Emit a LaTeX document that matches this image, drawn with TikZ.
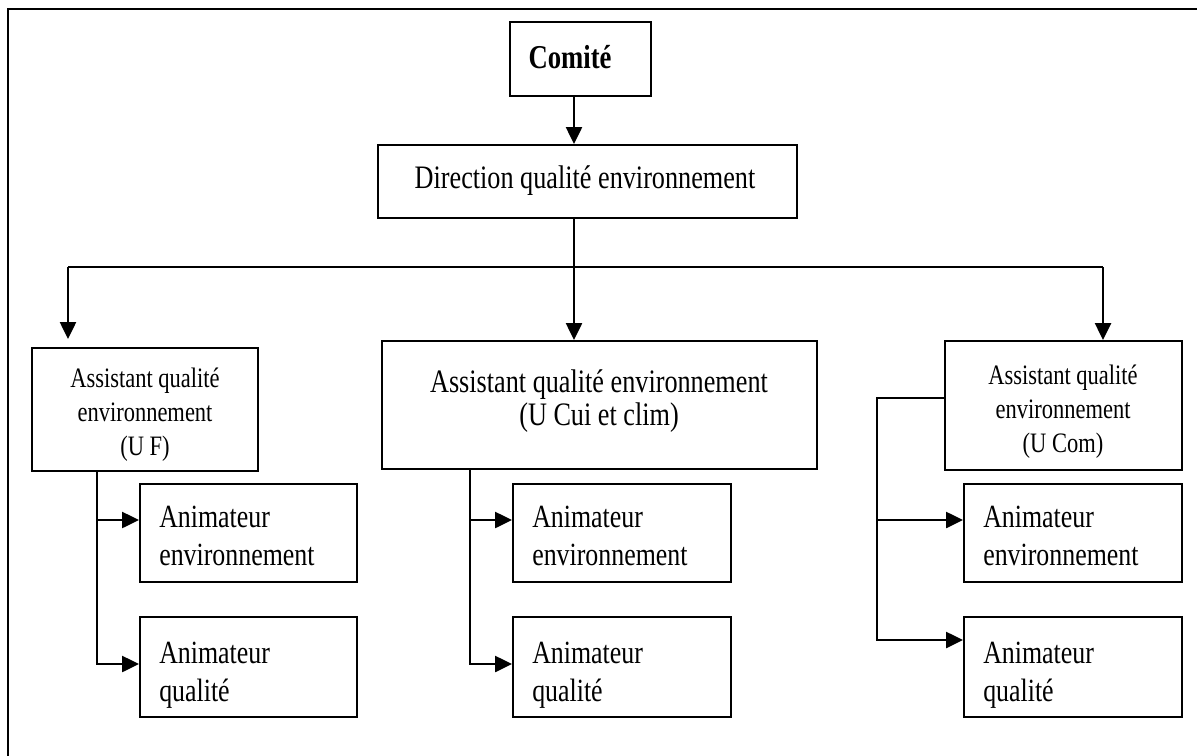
\documentclass[tikz,border=0pt]{standalone}
\usepackage{fontspec}
\setmainfont[FakeStretch=0.8]{Liberation Serif}
\usetikzlibrary{arrows.meta,fit}

\begin{document}
\begin{tikzpicture}[x=0.025cm,y=-0.025cm,
  box/.style={draw,line width=1.5pt,inner sep=0pt},
  txt/.style={inner sep=0pt,anchor=base},
  big/.style={txt,font=\fontsize{23.3}{23}\selectfont,align=center},
  small/.style={txt,font=\fontsize{20}{24}\selectfont,align=center},
  anim/.style={inner sep=0pt,anchor=base west,font=\fontsize{23}{27}\selectfont,align=left},
  link/.style={line width=1.5pt},
  arr/.style={line width=1.5pt,-{Triangle[length=0.42cm,width=0.4cm]}}]
\useasboundingbox (0,0) rectangle (1197,756);
\clip (0,0) rectangle (1197,756);
% cadre
\draw[line width=1.6pt] (8,800) -- (8,9) -- (1250,9);

% comite et direction
\node[box,fit={(510,22) (651,96)}] (comite) {};
\node[txt,font=\bfseries\fontsize{23.7}{28}\selectfont] (comitet) at (570,68) {Comité};
\node[box,fit={(378,145) (797,218)}] (dir) {};
\node[big] (dirt) at (585,188) {Direction qualité environnement};

% assistants (base = derniere ligne)
\node[box,fit={(32,348) (258,471)}] (uf) {};
\node[small] (uft) at (145,455) {Assistant qualité\\environnement\\(U F)};
\node[box,fit={(382,341) (817,469)}] (ucui) {};
\node[big] (ucuit) at (599,425) {Assistant qualité environnement\\(U Cui et clim)};
\node[box,fit={(945,341) (1182,470)}] (ucom) {};
\node[small] (ucomt) at (1063,452) {Assistant qualité\\environnement\\(U Com)};

% animateurs
\node[box,fit={(140,484) (357,582)}] (ufenv) {};
\node[anim] (ufenvt) at (159,565) {Animateur\\environnement};
\node[box,fit={(140,617) (357,717)}] (ufqual) {};
\node[anim] (ufqualt) at (159,701) {Animateur\\qualité};
\node[box,fit={(513,484) (731,582)}] (ucuienv) {};
\node[anim] (ucuienvt) at (532,565) {Animateur\\environnement};
\node[box,fit={(513,617) (731,717)}] (ucuiqual) {};
\node[anim] (ucuiqualt) at (532,701) {Animateur\\qualité};
\node[box,fit={(964,484) (1182,582)}] (ucomenv) {};
\node[anim] (ucomenvt) at (983,565) {Animateur\\environnement};
\node[box,fit={(964,617) (1182,717)}] (ucomqual) {};
\node[anim] (ucomqualt) at (983,701) {Animateur\\qualité};

% liaisons
\coordinate (spine) at (574,0);
\coordinate (busl) at (68,267);
\coordinate (busr) at (1103,267);
\coordinate (lx) at (97,0);
\coordinate (mx) at (470,0);
\coordinate (rx) at (877,0);
\coordinate (row0) at (0,398);
\coordinate (row1) at (0,520);
\coordinate (row2) at (0,664);
\coordinate (row3) at (0,640);
\draw[arr] (spine |- comite.south) -- (spine |- dir.north);
\draw[arr] (spine |- dir.south) -- (spine |- ucui.north);
\draw[link] (busl) -- (busr);
\draw[arr,shorten >=0.2cm] (busl) -- (busl |- uf.north);
\draw[arr] (busr) -- (busr |- ucom.north);

\draw[arr] (lx |- uf.south) |- (ufqual.west |- row2);
\draw[arr] (lx |- row1) -- (ufenv.west |- row1);
\draw[arr] (mx |- ucui.south) |- (ucuiqual.west |- row2);
\draw[arr] (mx |- row1) -- (ucuienv.west |- row1);
\draw[arr] (ucom.west |- row0) -| (rx |- row3) -- (ucomqual.west |- row3);
\draw[arr] (rx |- row1) -- (ucomenv.west |- row1);
\end{tikzpicture}
\end{document}
